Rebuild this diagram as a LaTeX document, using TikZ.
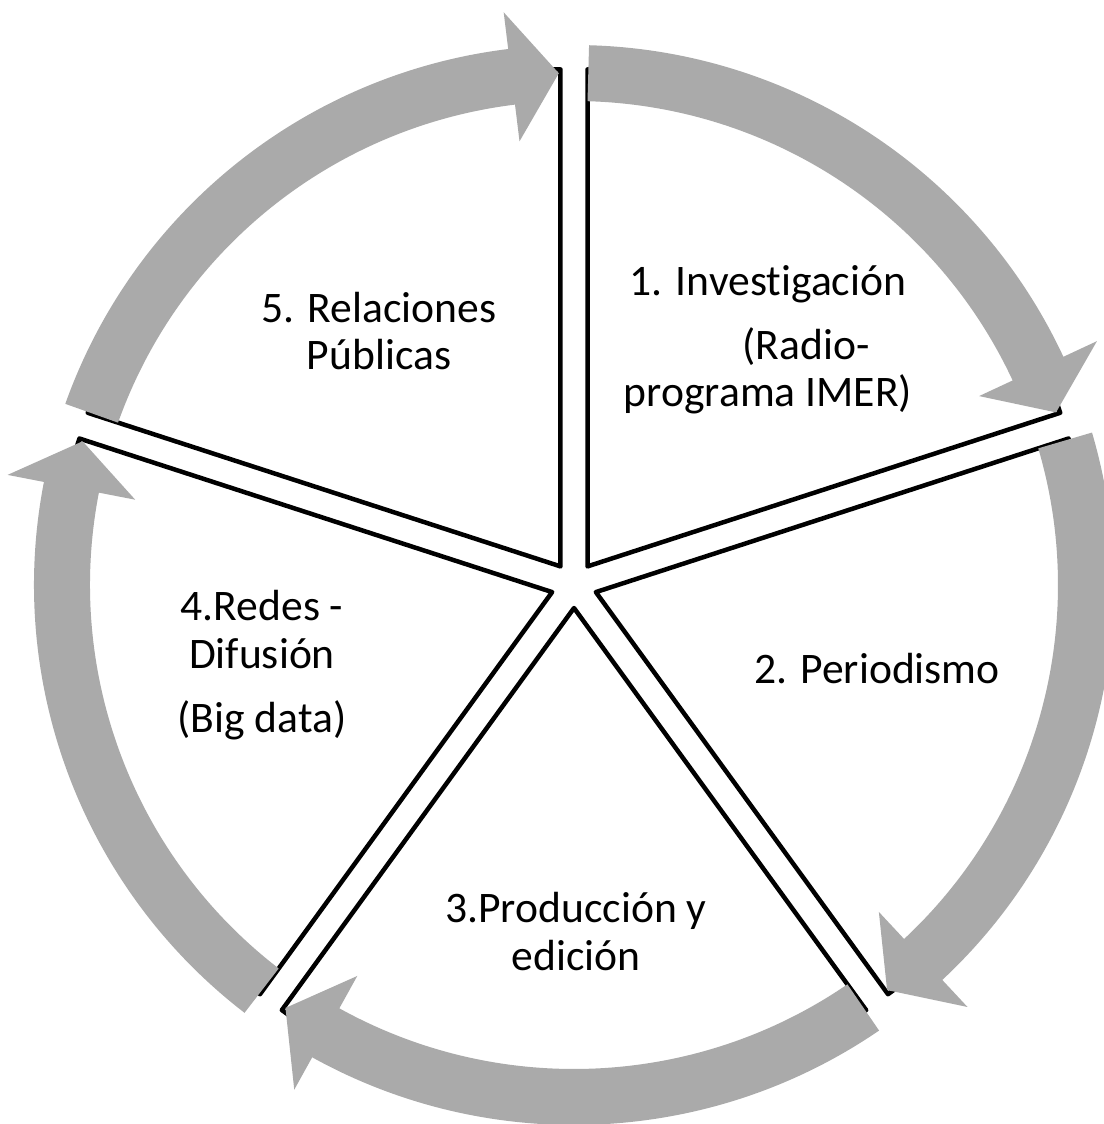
\documentclass[tikz,border=0pt]{standalone}
\usepackage{fontspec}
\setmainfont{Carlito}[Ligatures=NoCommon]
\usepackage{tikz}
\definecolor{arrowgray}{RGB}{170,170,170}
\tikzset{
    every node/.append style={font=\fontsize{31pt}{34pt}\selectfont},
    slice/.style={draw=black, fill=white, line width=3.2pt, line join=round},
    cyclearrow/.style={fill=arrowgray},
    segtext/.style={anchor=base, align=center, inner sep=0pt},
}
% curved arrow from tail angle #1 to tip angle #2 (clockwise)
\newcommand{\segarrow}[2]{%
  \fill[cyclearrow] (#1:540) arc[start angle=#1, end angle={#2+5.3}, radius=540]
    -- ({#2+5.3}:577) -- (#2:512) -- ({#2+5.3}:447) -- ({#2+5.3}:484)
    arc[start angle={#2+5.3}, end angle=#1, radius=484] -- cycle;}

\begin{document}
\begin{tikzpicture}[x=0.025cm, y=0.025cm]
  \useasboundingbox (-574,-539) rectangle (530,585);

  % slices
  \draw[slice] (54:23) -- ++(18:497) arc[start angle=18, end angle=90, radius=497] -- cycle;
  \draw[slice] (-18:23) -- ++(-54:497) arc[start angle=-54, end angle=18, radius=497] -- cycle;
  \draw[slice] (-90:23) -- ++(-126:497) arc[start angle=-126, end angle=-54, radius=497] -- cycle;
  \draw[slice] (198:23) -- ++(162:497) arc[start angle=162, end angle=234, radius=497] -- cycle;
  \draw[slice] (126:23) -- ++(90:497) arc[start angle=90, end angle=162, radius=497] -- cycle;

  % arrows
  \segarrow{88.4}{19.7}
  \segarrow{16.4}{-52.3}
  \segarrow{-55.6}{-124.3}
  \segarrow{-127.6}{-196.3}
  \segarrow{160.4}{91.7}

  % labels (anchored at the last baseline)
  \node[segtext] (inv) at (194,178) {1. Investigación\\[11pt]\hspace*{1.9cm}(Radio-\\programa IMER)};
  \node[segtext] (per) at (303,-98) {2. Periodismo};
  \node[segtext] (pro) at (2,-385) {3.Producción y\\edición};
  \node[segtext] (red) at (-312,-147) {4.Redes -\\Difusión\\[11pt](Big data)};
  \node[segtext] (rel) at (-195,215) {5. Relaciones\\Públicas};
\end{tikzpicture}
\end{document}
